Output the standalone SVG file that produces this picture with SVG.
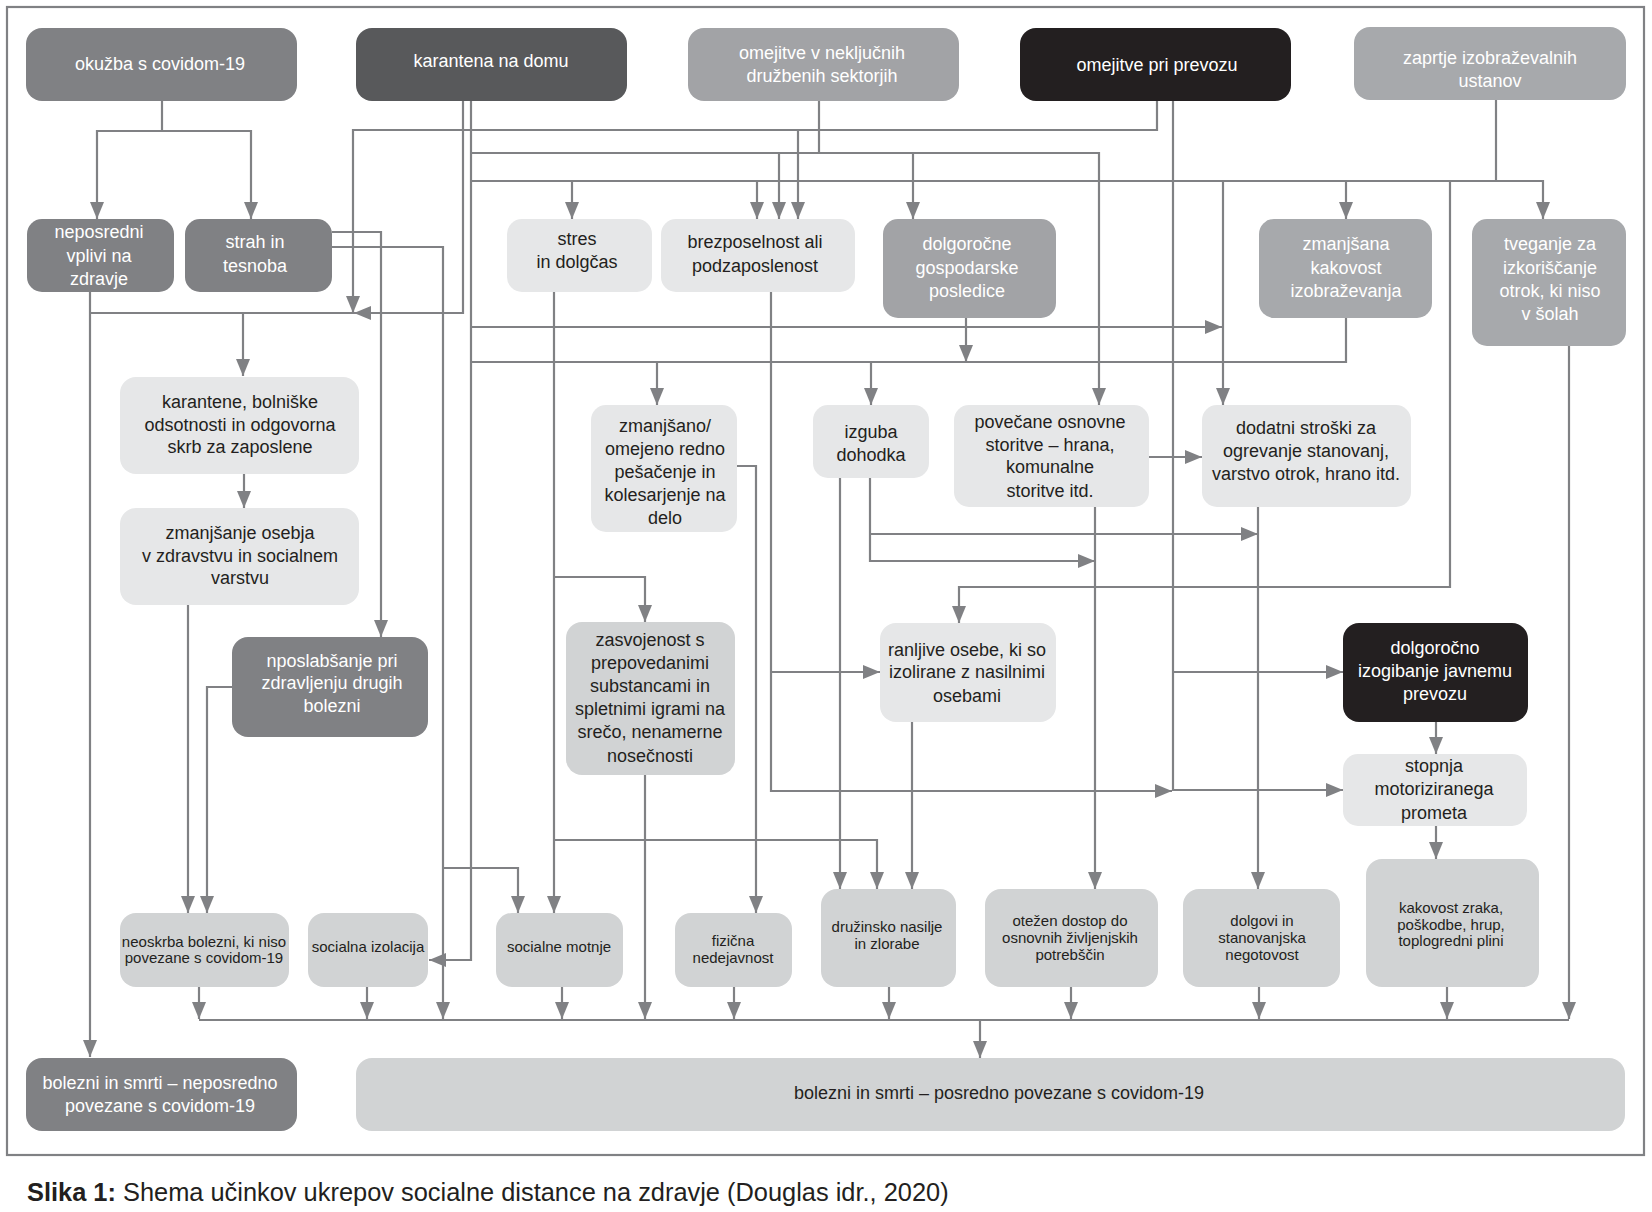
<svg xmlns="http://www.w3.org/2000/svg" width="1652" height="1212" viewBox="0 0 1652 1212">
<style>
.t{font-family:"Liberation Sans",Arial,sans-serif;font-size:18px;text-anchor:middle}
.s{font-family:"Liberation Sans",Arial,sans-serif;font-size:15px;text-anchor:middle}
.w{fill:#ffffff}
.d{fill:#231f20}
.c1{fill:#808184}
.c2{fill:#58595b}
.c3{fill:#a7a9ac}
.c3b{fill:#a2a3a6}
.c4{fill:#231f20}
.c5{fill:#e6e7e8}
.c6{fill:#d1d3d4}
.ln{fill:none;stroke:#808184;stroke-width:2.2}
.ar{fill:none;stroke:#808184;stroke-width:2.2;marker-end:url(#ah)}
</style>
<defs>
<marker id="ah" viewBox="0 0 17 14" refX="17" refY="7" markerWidth="17" markerHeight="14" markerUnits="userSpaceOnUse" orient="auto">
<path d="M0,0 L17,7 L0,14 Z" fill="#808184"/>
</marker>
</defs>
<rect x="0" y="0" width="1652" height="1212" fill="#ffffff"/>
<rect x="7" y="7" width="1637" height="1148" fill="none" stroke="#808184" stroke-width="2.2"/>

<g id="connectors">
<path class="ln" d="M162,101 V131"/>
<path class="ar" d="M162,131 H97 V219"/>
<path class="ar" d="M162,131 H251 V219"/>
<path class="ar" d="M90,292 V1057"/>
<path class="ln" d="M90,313 H354"/>
<path class="ar" d="M1157,101 V130 H353 V313"/>
<path class="ar" d="M463,101 V313 H354"/>
<path class="ar" d="M243,313 V376"/>
<path class="ar" d="M471,101 V960 H429"/>
<path class="ar" d="M471,153 H1099 V405"/>
<path class="ar" d="M779,153 V219"/>
<path class="ar" d="M913,153 V219"/>
<path class="ln" d="M819,101 V153"/>
<path class="ar" d="M798,130 V219"/>
<path class="ar" d="M471,181 H1543 V219"/>
<path class="ar" d="M572,181 V219"/>
<path class="ar" d="M757,181 V219"/>
<path class="ar" d="M1223,181 V405"/>
<path class="ar" d="M1346,181 V219"/>
<path class="ln" d="M1496,100 V181"/>
<path class="ar" d="M1450,181 V587 H959 V623"/>
<path class="ar" d="M471,327 H1222"/>
<path class="ln" d="M471,362 H1346 V318"/>
<path class="ar" d="M657,362 V405"/>
<path class="ar" d="M871,362 V405"/>
<path class="ar" d="M966,318 V362"/>
<path class="ar" d="M332,232 H381 V637"/>
<path class="ar" d="M332,247 H443 V1019"/>
<path class="ar" d="M443,868 H518 V913"/>
<path class="ar" d="M554,292 V913"/>
<path class="ar" d="M554,577 H645 V622"/>
<path class="ar" d="M554,840 H877 V889"/>
<path class="ar" d="M771,292 V791 H1172"/>
<path class="ar" d="M771,672 H880"/>
<path class="ar" d="M1173,101 V790 H1343"/>
<path class="ar" d="M1173,672 H1343"/>
<path class="ar" d="M737,466 H756 V913"/>
<path class="ar" d="M645,775 V1019"/>
<path class="ar" d="M840,478 V889"/>
<path class="ar" d="M870,478 V561 H1095"/>
<path class="ar" d="M870,534 H1258"/>
<path class="ar" d="M1095,507 V889"/>
<path class="ar" d="M1149,457 H1202"/>
<path class="ar" d="M1258,507 V889"/>
<path class="ar" d="M912,722 V889"/>
<path class="ar" d="M1436,722 V754"/>
<path class="ar" d="M1436,826 V859"/>
<path class="ar" d="M188,605 V913"/>
<path class="ar" d="M232,687 H207 V913"/>
<path class="ar" d="M244,474 V508"/>
<path class="ar" d="M199,987 V1019"/>
<path class="ar" d="M367,987 V1019"/>
<path class="ar" d="M562,987 V1019"/>
<path class="ar" d="M734,987 V1019"/>
<path class="ar" d="M889,987 V1019"/>
<path class="ar" d="M1071,987 V1019"/>
<path class="ar" d="M1259,987 V1019"/>
<path class="ar" d="M1447,987 V1019"/>
<path class="ar" d="M1569,346 V1019"/>
<path class="ln" d="M199,1020 H1569"/>
<path class="ar" d="M980,1020 V1058"/>
</g>

<g id="n-okuzba"><rect class="c1" x="26" y="28" width="271" height="73" rx="16"/><text class="t w" x="160" y="70">okužba s covidom-19</text></g>
<g id="n-karantena"><rect class="c2" x="356" y="28" width="271" height="73" rx="16"/><text class="t w" x="491" y="67">karantena na domu</text></g>
<g id="n-omejitve-sektorji"><rect class="c3b" x="688" y="28" width="271" height="73" rx="16"/><text class="t w" x="822" y="59">omejitve v neključnih</text><text class="t w" x="822" y="82">družbenih sektorjih</text></g>
<g id="n-prevoz"><rect class="c4" x="1020" y="28" width="271" height="73" rx="16"/><text class="t w" x="1157" y="71">omejitve pri prevozu</text></g>
<g id="n-zaprtje"><rect class="c3" x="1354" y="27" width="272" height="73" rx="16"/><text class="t w" x="1490" y="64">zaprtje izobraževalnih</text><text class="t w" x="1490" y="87">ustanov</text></g>

<g id="n-neposredni"><rect class="c1" x="27" y="219" width="147" height="73" rx="15"/><text class="t w" x="99" y="238">neposredni</text><text class="t w" x="99" y="262">vplivi na</text><text class="t w" x="99" y="285">zdravje</text></g>
<g id="n-strah"><rect class="c1" x="185" y="219" width="147" height="73" rx="15"/><text class="t w" x="255" y="248">strah in</text><text class="t w" x="255" y="272">tesnoba</text></g>
<g id="n-stres"><rect class="c5" x="507" y="219" width="145" height="73" rx="15"/><text class="t d" x="577" y="245">stres</text><text class="t d" x="577" y="268">in dolgčas</text></g>
<g id="n-brezposelnost"><rect class="c5" x="661" y="219" width="194" height="73" rx="15"/><text class="t d" x="755" y="248">brezposelnost ali</text><text class="t d" x="755" y="272">podzaposlenost</text></g>
<g id="n-gospodarske"><rect class="c3b" x="883" y="219" width="173" height="99" rx="15"/><text class="t w" x="967" y="250">dolgoročne</text><text class="t w" x="967" y="274">gospodarske</text><text class="t w" x="967" y="297">posledice</text></g>
<g id="n-izobrazevanje"><rect class="c3" x="1259" y="219" width="173" height="99" rx="15"/><text class="t w" x="1346" y="250">zmanjšana</text><text class="t w" x="1346" y="274">kakovost</text><text class="t w" x="1346" y="297">izobraževanja</text></g>
<g id="n-tveganje"><rect class="c3" x="1472" y="219" width="154" height="127" rx="15"/><text class="t w" x="1550" y="250">tveganje za</text><text class="t w" x="1550" y="274">izkoriščanje</text><text class="t w" x="1550" y="297">otrok, ki niso</text><text class="t w" x="1550" y="320">v šolah</text></g>

<g id="n-karantene"><rect class="c5" x="120" y="377" width="239" height="97" rx="16"/><text class="t d" x="240" y="408">karantene, bolniške</text><text class="t d" x="240" y="431">odsotnosti in odgovorna</text><text class="t d" x="240" y="453">skrb za zaposlene</text></g>
<g id="n-pesacenje"><rect class="c5" x="591" y="405" width="146" height="127" rx="15"/><text class="t d" x="665" y="432">zmanjšano/</text><text class="t d" x="665" y="455">omejeno redno</text><text class="t d" x="665" y="478">pešačenje in</text><text class="t d" x="665" y="501">kolesarjenje na</text><text class="t d" x="665" y="524">delo</text></g>
<g id="n-izguba"><rect class="c5" x="813" y="405" width="116" height="73" rx="15"/><text class="t d" x="871" y="438">izguba</text><text class="t d" x="871" y="461">dohodka</text></g>
<g id="n-povecane"><rect class="c5" x="954" y="405" width="195" height="102" rx="15"/><text class="t d" x="1050" y="428">povečane osnovne</text><text class="t d" x="1050" y="451">storitve – hrana,</text><text class="t d" x="1050" y="473">komunalne</text><text class="t d" x="1050" y="497">storitve itd.</text></g>
<g id="n-dodatni"><rect class="c5" x="1202" y="405" width="209" height="102" rx="15"/><text class="t d" x="1306" y="434">dodatni stroški za</text><text class="t d" x="1306" y="457">ogrevanje stanovanj,</text><text class="t d" x="1306" y="480">varstvo otrok, hrano itd.</text></g>

<g id="n-osebje"><rect class="c5" x="120" y="508" width="239" height="97" rx="16"/><text class="t d" x="240" y="539">zmanjšanje osebja</text><text class="t d" x="240" y="562">v zdravstvu in socialnem</text><text class="t d" x="240" y="584">varstvu</text></g>
<g id="n-poslabsanje"><rect class="c1" x="232" y="637" width="196" height="100" rx="16"/><text class="t w" x="332" y="667">nposlabšanje pri</text><text class="t w" x="332" y="689">zdravljenju drugih</text><text class="t w" x="332" y="712">bolezni</text></g>
<g id="n-zasvojenost"><rect class="c6" x="566" y="622" width="169" height="153" rx="16"/><text class="t d" x="650" y="646">zasvojenost s</text><text class="t d" x="650" y="669">prepovedanimi</text><text class="t d" x="650" y="692">substancami in</text><text class="t d" x="650" y="715">spletnimi igrami na</text><text class="t d" x="650" y="738">srečo, nenamerne</text><text class="t d" x="650" y="762">nosečnosti</text></g>
<g id="n-ranljive"><rect class="c5" x="880" y="623" width="176" height="99" rx="16"/><text class="t d" x="967" y="656">ranljive osebe, ki so</text><text class="t d" x="967" y="678">izolirane z nasilnimi</text><text class="t d" x="967" y="702">osebami</text></g>
<g id="n-izogibanje"><rect class="c4" x="1343" y="623" width="185" height="99" rx="16"/><text class="t w" x="1435" y="654">dolgoročno</text><text class="t w" x="1435" y="677">izogibanje javnemu</text><text class="t w" x="1435" y="700">prevozu</text></g>
<g id="n-stopnja"><rect class="c5" x="1343" y="754" width="184" height="72" rx="15"/><text class="t d" x="1434" y="772">stopnja</text><text class="t d" x="1434" y="795">motoriziranega</text><text class="t d" x="1434" y="819">prometa</text></g>

<g id="n-neoskrba"><rect class="c6" x="120" y="913" width="169" height="74" rx="16"/><text class="s d" x="204" y="947">neoskrba bolezni, ki niso</text><text class="s d" x="204" y="963">povezane s covidom-19</text></g>
<g id="n-izolacija"><rect class="c6" x="308" y="913" width="120" height="74" rx="16"/><text class="s d" x="368" y="952">socialna izolacija</text></g>
<g id="n-motnje"><rect class="c6" x="496" y="913" width="127" height="74" rx="16"/><text class="s d" x="559" y="952">socialne motnje</text></g>
<g id="n-nedejavnost"><rect class="c6" x="675" y="913" width="117" height="74" rx="16"/><text class="s d" x="733" y="946">fizična</text><text class="s d" x="733" y="963">nedejavnost</text></g>
<g id="n-nasilje"><rect class="c6" x="821" y="889" width="135" height="98" rx="16"/><text class="s d" x="887" y="932">družinsko nasilje</text><text class="s d" x="887" y="949">in zlorabe</text></g>
<g id="n-dostop"><rect class="c6" x="985" y="889" width="173" height="98" rx="16"/><text class="s d" x="1070" y="926">otežen dostop do</text><text class="s d" x="1070" y="943">osnovnih življenjskih</text><text class="s d" x="1070" y="960">potrebščin</text></g>
<g id="n-dolgovi"><rect class="c6" x="1183" y="889" width="157" height="98" rx="16"/><text class="s d" x="1262" y="926">dolgovi in</text><text class="s d" x="1262" y="943">stanovanjska</text><text class="s d" x="1262" y="960">negotovost</text></g>
<g id="n-zrak"><rect class="c6" x="1366" y="859" width="173" height="128" rx="16"/><text class="s d" x="1451" y="913">kakovost zraka,</text><text class="s d" x="1451" y="930">poškodbe, hrup,</text><text class="s d" x="1451" y="946">toplogredni plini</text></g>

<g id="n-neposredno"><rect class="c1" x="26" y="1058" width="271" height="73" rx="16"/><text class="t w" x="160" y="1089">bolezni in smrti – neposredno</text><text class="t w" x="160" y="1112">povezane s covidom-19</text></g>
<g id="n-posredno"><rect class="c6" x="356" y="1058" width="1269" height="73" rx="16"/><text class="t d" x="999" y="1099">bolezni in smrti – posredno povezane s covidom-19</text></g>

<text x="27" y="1201" font-family="Liberation Sans, Arial, sans-serif" font-size="25.4" fill="#231f20"><tspan font-weight="bold">Slika 1:</tspan> Shema učinkov ukrepov socialne distance na zdravje (Douglas idr., 2020)</text>
</svg>
